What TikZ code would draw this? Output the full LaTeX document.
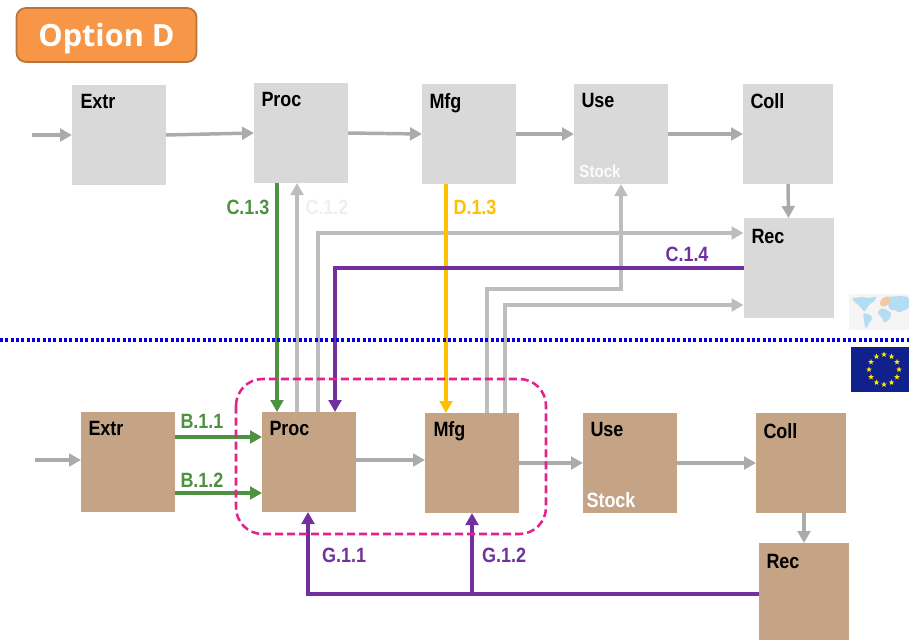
\documentclass[tikz,border=0pt]{standalone}
\usepackage{fontspec}
\setmainfont[FakeStretch=0.87]{Liberation Sans}
\newfontfamily\optionfont{Open Sans}
\usetikzlibrary{arrows.meta,shapes.geometric}

\definecolor{boxgrey}{HTML}{D9D9D9}
\definecolor{boxbrown}{HTML}{C4A484}
\definecolor{linegrey}{HTML}{BDBDBD}
\definecolor{flowgrey}{HTML}{ABABAB}
\definecolor{flowgreen}{HTML}{4E9140}
\definecolor{flowpurple}{HTML}{7030A0}
\definecolor{flowgold}{HTML}{FFC000}
\definecolor{faintgrey}{HTML}{EFEFEF}
\definecolor{dashpink}{HTML}{E6218C}
\definecolor{euroblue}{HTML}{10218B}
\definecolor{mapblue}{HTML}{B5DDF2}
\definecolor{mapeurope}{HTML}{F5C9A0}
\definecolor{tagfill}{HTML}{F79646}
\definecolor{tagline}{HTML}{B8743A}

\tikzset{
  every picture/.style={line width=0.75pt},
  tipflow/.tip={Triangle[length=9pt,width=9.5pt]},
  topbox/.style={fill=boxgrey,inner sep=0pt,outer sep=0pt},
  botbox/.style={fill=boxbrown,inner sep=0pt,outer sep=0pt},
  boxtext/.style={font=\bfseries\fontsize{15.5}{17}\selectfont,text=black,inner sep=0pt,anchor=north west},
  flowtext/.style={font=\bfseries\fontsize{15.5}{17}\selectfont,inner sep=0pt},
  stocktext/.style={flowtext,text=white},
  flow/.style={draw=flowgrey,line width=2.6pt,-tipflow},
  flowpale/.style={draw=linegrey,line width=2.4pt,-tipflow},
  flowgr/.style={draw=flowgreen,line width=2.4pt,-tipflow},
  flowpu/.style={draw=flowpurple,line width=2.4pt,-tipflow},
  flowgo/.style={draw=flowgold,line width=2.4pt,-tipflow},
}

\begin{document}
\begin{tikzpicture}[x=0.75pt,y=0.75pt,yscale=-1,xscale=1]
\useasboundingbox (0,0) rectangle (909,639);

% Option tag
\node (optiontag) [draw=tagline,line width=1.3pt,fill=tagfill,rounded corners=7pt,minimum width=135pt,minimum height=40.5pt,inner sep=0pt,text=white,text depth=0pt,font=\optionfont\bfseries\fontsize{23}{26}\selectfont] at (106.5,35) {Option D};

% Upper chain
\node (extrT) [topbox,minimum width=70.5pt,minimum height=75pt] at (119,135) {};
\node (procT) [topbox,minimum width=70.5pt,minimum height=75pt] at (301,133) {};
\node (mfgT) [topbox,minimum width=70.5pt,minimum height=75pt] at (469,134) {};
\node (useT) [topbox,minimum width=70.5pt,minimum height=75pt] at (621,134) {};
\node (collT) [topbox,minimum width=67.5pt,minimum height=75pt] at (788,134) {};
\node (recT) [topbox,minimum width=67.5pt,minimum height=75pt] at (788.5,268) {};

% Lower chain
\node (extrB) [botbox,minimum width=70.5pt,minimum height=75pt] at (128,462) {};
\node (procB) [botbox,minimum width=70.5pt,minimum height=75pt] at (309,462) {};
\node (mfgB) [botbox,minimum width=70.5pt,minimum height=75pt] at (472,463) {};
\node (useB) [botbox,minimum width=70.5pt,minimum height=75pt] at (630,463) {};
\node (collB) [botbox,minimum width=67.5pt,minimum height=75pt] at (801,463) {};
\node (recB) [botbox,minimum width=67.5pt,minimum height=75pt] at (804,593) {};

% Free ends and bends
\coordinate (startT) at (32,135);
\coordinate (startB) at (35,460);
\coordinate (xgreen) at (277,300);
\coordinate (xpaleA) at (297,300);
\coordinate (xpaleB) at (318,233);
\coordinate (xpurple) at (335,268);
\coordinate (xgold) at (446,300);
\coordinate (xmfgA) at (487,289);
\coordinate (xmfgB) at (505,305);
\coordinate (bendUse) at (621,289);
\coordinate (busB) at (472,594);
\coordinate (busA) at (308,594);
\coordinate (ymain) at (0,460);
\coordinate (ygreenA) at (0,437);
\coordinate (ygreenB) at (0,493);

% Box texts
\node (extrTtext) [boxtext] at (80,94) {Extr};
\node (procTtext) [boxtext] at (261,92) {Proc};
\node (mfgTtext) [boxtext] at (429,93) {Mfg};
\node (useTtext) [boxtext] at (581,93) {Use};
\node (collTtext) [boxtext] at (750,93) {Coll};
\node (recTtext) [boxtext] at (751,229) {Rec};
\node (extrBtext) [boxtext] at (88,421) {Extr};
\node (procBtext) [boxtext] at (269,421) {Proc};
\node (mfgBtext) [boxtext] at (433,421) {Mfg};
\node (useBtext) [boxtext] at (590,422) {Use};
\node (collBtext) [boxtext] at (763,423) {Coll};
\node (recBtext) [boxtext] at (766,554) {Rec};
\node (stockT) [stocktext,font=\bfseries\fontsize{13}{15}\selectfont,opacity=0.9] at (600,171) {Stock};
\node (stockB) [stocktext] at (611,500) {Stock};

% Grey flows, upper
\draw [flow] (startT) -- (extrT.west |- startT);
\draw [flow] (extrT.east) -- (procT.west);
\draw [flow] (procT.east) -- (mfgT.west);
\draw [flow] (mfgT.east) -- (useT.west);
\draw [flow] (useT.east) -- (collT.west);
\draw [flow] (collT.south) -- (recT.north);

% Grey flows, lower
\draw [flow] (startB) -- (extrB.west |- startB);
\draw [flow] (procB.east |- ymain) -- (mfgB.west |- ymain);
\draw [flow] (mfgB.east) -- (useB.west);
\draw [flow] (useB.east) -- (collB.west);
\draw [flow] (collB.south -| recB.north) -- (recB.north);

% Flows across the line
\draw [flowpale] (procB.north -| xpaleA) -- (procT.south -| xpaleA);
\draw [flowpale] (procB.north -| xpaleB) -- (xpaleB) -- (recT.west |- xpaleB);
\draw [flowpale] (mfgB.north -| xmfgA) -- (xmfgA) -- (bendUse) -- (useT.south);
\draw [flowpale] (mfgB.north -| xmfgB) -- (xmfgB) -- (recT.west |- xmfgB);
\draw [flowgr] (procT.south -| xgreen) -- (procB.north -| xgreen);
\draw [flowgo] (mfgT.south -| xgold) -- (mfgB.north -| xgold);
\draw [flowpu] (recT.west |- xpurple) -- (xpurple) -- (procB.north -| xpurple);
\draw [flowgr] (extrB.east |- ygreenA) -- (procB.west |- ygreenA);
\draw [flowgr] (extrB.east |- ygreenB) -- (procB.west |- ygreenB);
\draw [flowpu] (recB.west |- busA) -- (busA) -- (procB.south -| busA);
\draw [flowpu] (busB) -- (mfgB.south);

% Flow labels
\node (c13) [flowtext,text=flowgreen] at (248,207) {C.1.3};
\node (c12) [flowtext,text=faintgrey] at (327,207) {C.1.2};
\node (d13) [flowtext,text=flowgold] at (475,207) {D.1.3};
\node (c14) [flowtext,text=flowpurple] at (687,254) {C.1.4};
\node (b11) [flowtext,text=flowgreen] at (202,421) {B.1.1};
\node (b12) [flowtext,text=flowgreen] at (202,480) {B.1.2};
\node (g11) [flowtext,text=flowpurple] at (344,555) {G.1.1};
\node (g12) [flowtext,text=flowpurple] at (504,555) {G.1.2};

% Group frame and border
\draw [dashpink,line width=1.9pt,dash pattern=on 6pt off 3pt,rounded corners=20pt] (236,379) rectangle (546,534);
\draw [blue!90!black,line width=2.3pt,dash pattern=on 2.3pt off 1.7pt] (0,340) -- (909,340);

% World map
\fill [black!4] (849,294) rectangle (909,330);
\fill [mapblue,rounded corners=1.5pt] (852,298) -- (862,297) -- (870,298) -- (877,296) -- (874,302) -- (869,304) -- (867,309) -- (864,312) -- (860,306) -- (854,302) -- cycle;
\fill [mapblue,rounded corners=1.5pt] (863,313) -- (869,314) -- (873,318) -- (869,323) -- (867,328) -- (865,328) -- (864,320) -- cycle;
\fill [mapblue,rounded corners=1.5pt] (878,310) -- (884,308) -- (890,312) -- (892,314) -- (888,321) -- (884,323) -- (882,317) -- (878,315) -- cycle;
\fill [mapblue,rounded corners=1.5pt] (888,297) -- (900,296) -- (909,297) -- (909,309) -- (904,310) -- (899,313) -- (894,309) -- (891,311) -- (888,306) -- cycle;
\fill [mapeurope,rounded corners=1.5pt] (880,301) -- (884,297) -- (890,296) -- (889,304) -- (884,307) -- (880,306) -- cycle;

% EU flag
\fill [euroblue] (851,347) rectangle (909,392);
\foreach \i in {0,30,...,330}
  \node [star,star points=5,star point ratio=2.4,fill=yellow!90!orange,inner sep=0pt,minimum size=4.5pt] at ({884+15*cos(\i)},{369.5+15*sin(\i)}) {};

\end{tikzpicture}
\end{document}
